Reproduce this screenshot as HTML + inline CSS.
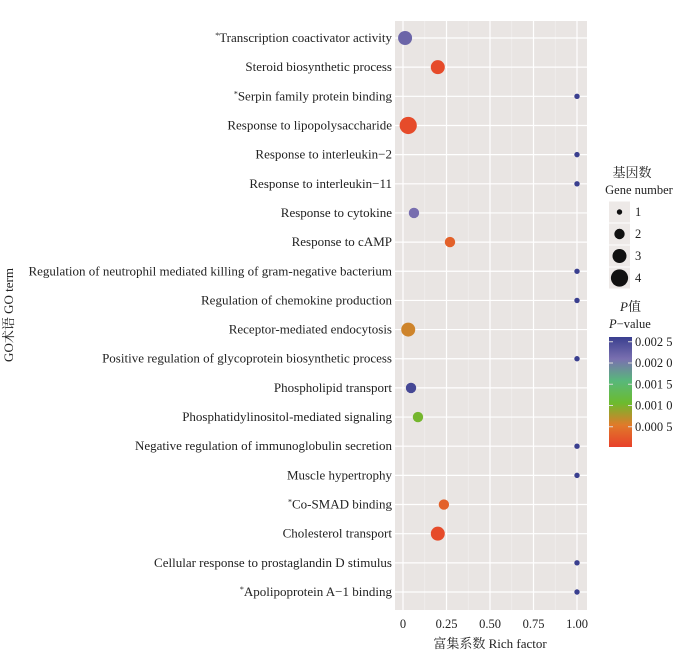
<!DOCTYPE html>
<html><head><meta charset="utf-8"><style>
body{margin:0;background:#fff;font-family:"Liberation Serif","Noto Serif CJK SC",serif}
svg text{font-family:"Liberation Serif","Noto Serif CJK SC",serif}
</style></head><body>
<svg id="chart" width="700" height="654" xmlns="http://www.w3.org/2000/svg">
<defs>
<linearGradient id="pg" x1="0" y1="1" x2="0" y2="0">
<stop offset="0" stop-color="#e8402a"/><stop offset="0.2" stop-color="#e07a2a"/>
<stop offset="0.4" stop-color="#6cbb2e"/><stop offset="0.6" stop-color="#58b87a"/>
<stop offset="0.8" stop-color="#7a70b0"/><stop offset="1" stop-color="#3a3f8f"/>
</linearGradient>
</defs>
<g id="plot"></g>
</svg>
<script>
const terms=["*Transcription coactivator activity","Steroid biosynthetic process","*Serpin family protein binding","Response to lipopolysaccharide","Response to interleukin−2","Response to interleukin−11","Response to cytokine","Response to cAMP","Regulation of neutrophil mediated killing of gram-negative bacterium","Regulation of chemokine production","Receptor-mediated endocytosis","Positive regulation of glycoprotein biosynthetic process","Phospholipid transport","Phosphatidylinositol-mediated signaling","Negative regulation of immunoglobulin secretion","Muscle hypertrophy","*Co-SMAD binding","Cholesterol transport","Cellular response to prostaglandin D stimulus","*Apolipoprotein A−1 binding"];
const richFactor=[0.012,0.2,1,0.03,1,1,0.063,0.27,1,1,0.03,1,0.046,0.086,1,1,0.235,0.2,1,1];
const geneNumber=[3,3,1,4,1,1,2,2,1,1,3,1,2,2,1,1,2,3,1,1];
const pValue=[0.0022,0.0001,0.0026,0.0001,0.0026,0.0026,0.0021,0.0003,0.0026,0.0026,0.0006,0.0026,0.0025,0.001,0.0026,0.0026,0.0003,0.0001,0.0026,0.0026];
const xTicks=[0,0.25,0.5,0.75,1];
const xTickLabels=["0","0.25","0.50","0.75","1.00"];
const sizeLegend=[1,2,3,4];
const pTicks=[0.0025,0.002,0.0015,0.001,0.0005];
const pTickLabels=["0.002 5","0.002 0","0.001 5","0.001 0","0.000 5"];

const NS="http://www.w3.org/2000/svg";
const g=document.getElementById('plot');
function el(t,a,p){const e=document.createElementNS(NS,t);for(const k in a)e.setAttribute(k,a[k]);(p||g).appendChild(e);return e;}
const PL=395,PR=587,PT=21,PB=610;
const xs=v=>403+v*174;
const ys=i=>38+i*(554/(terms.length-1));
const rs=n=>[0,2.7,5.2,7,8.6][n]||n*2;
const stops=[[0,[232,64,42]],[0.2,[224,122,42]],[0.4,[108,187,46]],[0.6,[88,184,122]],[0.8,[122,112,176]],[1,[58,63,143]]];
function col(p){let t=Math.max(0,Math.min(1,p/0.0026));for(let i=1;i<stops.length;i++){if(t<=stops[i][0]){const a=stops[i-1],b=stops[i],f=(t-a[0])/(b[0]-a[0]);return 'rgb('+a[1].map((c,j)=>Math.round(c+(b[1][j]-c)*f)).join(',')+')';}}return 'rgb(58,63,143)';}

const bg=el('rect',{x:PL,y:PT,width:PR-PL,height:PB-PT,fill:'#e9e5e3'});

xTicks.forEach((v,i)=>{
 if(i<xTicks.length-1){el('line',{x1:xs(v+0.125),x2:xs(v+0.125),y1:PT,y2:PB,stroke:'#f3f0ef','stroke-width':0.6});}
 const l=el('line',{x1:xs(v),x2:xs(v),y1:PT,y2:PB,stroke:'#fff','stroke-width':1.2});
 
 const t=el('text',{x:xs(v),y:628,'text-anchor':'middle','font-size':12.5,fill:'#222'});t.textContent=xTickLabels[i];
 
});
terms.forEach((term,i)=>{
 const l=el('line',{x1:PL,x2:PR,y1:ys(i),y2:ys(i),stroke:'#fff','stroke-width':1.2});
 
 const t=el('text',{x:392,y:ys(i)+4,'text-anchor':'end','font-size':13,fill:'#222'});
 if(term[0]==='*'){const s=document.createElementNS(NS,'tspan');s.setAttribute('font-size',8);s.setAttribute('dy',-4);s.textContent='*';t.appendChild(s);const s2=document.createElementNS(NS,'tspan');s2.setAttribute('dy',4);s2.textContent=term.slice(1);t.appendChild(s2);}
 else t.textContent=term;
 
});
terms.forEach((term,i)=>{
 const c=el('circle',{cx:xs(richFactor[i]),cy:ys(i),r:rs(geneNumber[i]),fill:col(pValue[i])});
 
});
let t=el('text',{x:490,y:648,'text-anchor':'middle','font-size':13,fill:'#222'});t.textContent='富集系数 Rich factor';

t=el('text',{x:0,y:0,'text-anchor':'middle','font-size':13,fill:'#222',transform:'translate(13,315) rotate(-90)'});t.textContent='GO术语 GO term';

t=el('text',{x:632,y:177,'text-anchor':'middle','font-size':13,fill:'#222'});t.textContent='基因数';

t=el('text',{x:639,y:194,'text-anchor':'middle','font-size':12.5,fill:'#222'});t.textContent='Gene number';

sizeLegend.forEach((n,i)=>{
 const cy=212+i*22;
 el('rect',{x:609,y:cy-10.5,width:21,height:21,fill:'#ede9e7'});
 const c=el('circle',{cx:619.5,cy:cy,r:rs(n),fill:'#111'});
 
 const tt=el('text',{x:635,y:cy+4,'font-size':12.5,fill:'#222'});tt.textContent=String(n);
 
});
t=el('text',{x:620,y:311,'font-size':13,fill:'#222'});t.innerHTML='<tspan font-style="italic">P</tspan>值';

t=el('text',{x:609,y:328,'font-size':12.5,fill:'#222'});t.innerHTML='<tspan font-style="italic">P</tspan>−value';

const cb=el('rect',{x:609,y:337,width:23,height:110,fill:'url(#pg)'});

const py=p=>448-p/0.0005*21.25;
pTicks.forEach((p,i)=>{
 el('line',{x1:609,x2:613,y1:py(p),y2:py(p),stroke:'#ddd'});el('line',{x1:628,x2:632,y1:py(p),y2:py(p),stroke:'#ddd'});
 const tt=el('text',{x:635,y:py(p)+4,'font-size':12.5,fill:'#222'});tt.textContent=pTickLabels[i];
 
});
</script>
</body></html>
